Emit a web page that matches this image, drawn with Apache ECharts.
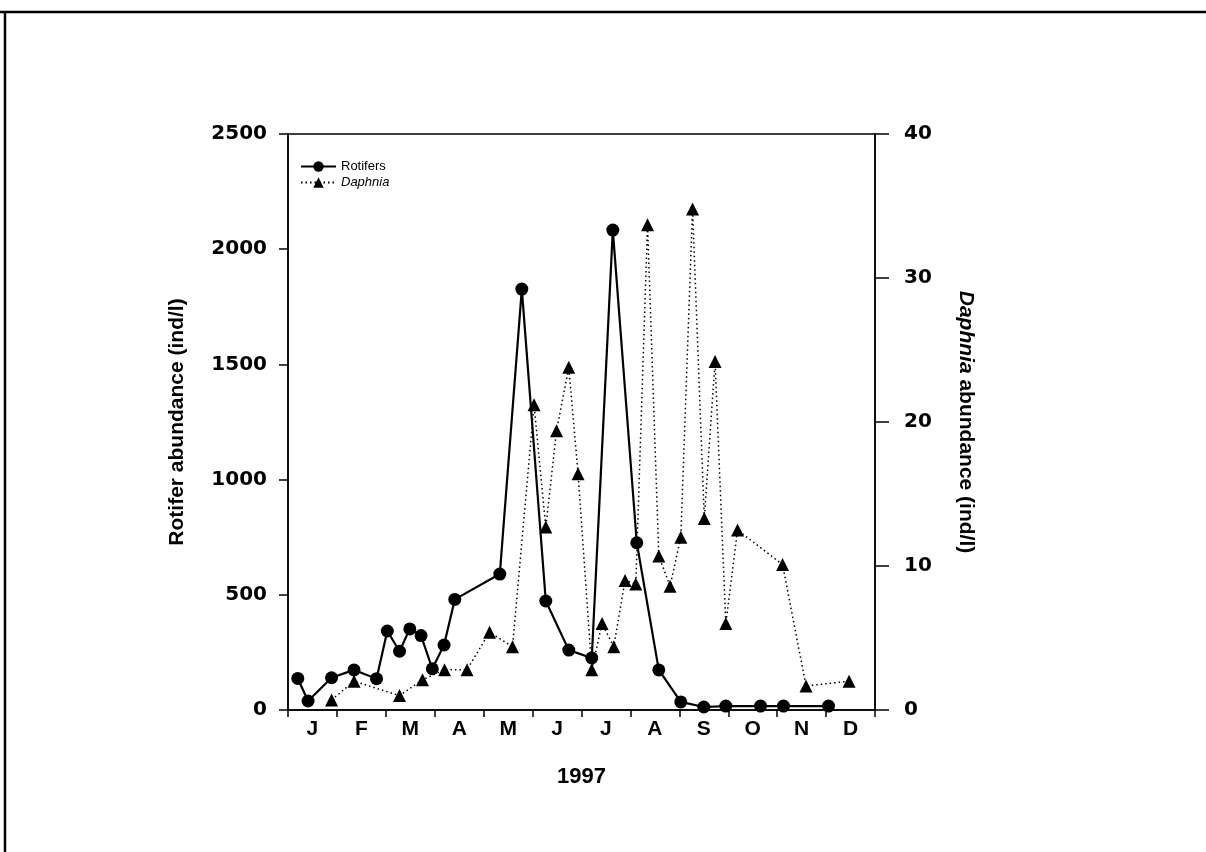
<!DOCTYPE html>
<html>
<head>
<meta charset="utf-8">
<script src="https://cdn.jsdelivr.net/npm/echarts@6/dist/echarts.min.js"></script>
<style>html,body{margin:0;padding:0;background:#fff;}#c{width:1206px;height:852px;}</style>
</head>
<body>
<div id="c"></div>
<script>
// Month labels (x axis spans 12 months, value axis in months from Jan 1)
var months = ['J','F','M','A','M','J','J','A','S','O','N','D'];

// Rotifers (ind/l), left axis
var rotiferX = [0.20,0.41,0.89,1.35,1.81,2.03,2.28,2.49,2.72,2.95,3.19,3.41,4.33,4.78,5.27,5.74,6.21,6.64,7.13,7.58,8.03,8.50,8.95,9.66,10.13,11.05];
var rotiferY = [137,39,140,174,136,343,255,352,323,179,282,480,590,1827,473,260,226,2083,726,174,35,13,17,17,17,17];

// Daphnia (ind/l), right axis
var daphniaX = [0.89,1.35,2.28,2.75,3.20,3.66,4.12,4.59,5.03,5.27,5.49,5.74,5.93,6.21,6.42,6.66,6.89,7.11,7.35,7.58,7.81,8.03,8.27,8.51,8.73,8.95,9.19,10.11,10.59,11.47];
var daphniaY = [0.7,2.0,1.0,2.1,2.8,2.8,5.4,4.4,21.2,12.7,19.4,23.8,16.4,2.8,6.0,4.4,9.0,8.75,33.7,10.7,8.6,12.0,34.8,13.3,24.2,6.0,12.5,10.1,1.67,2.0];

function pairs(xs, ys){ return xs.map(function(x,i){ return [x, ys[i]]; }); }

var FONT = '"Liberation Sans", Arial, Helvetica, sans-serif';
var NUMFONT = '"DejaVu Sans", "Liberation Sans", sans-serif';
var chart = echarts.init(document.getElementById('c'));
chart.setOption({
  animation: false,
  backgroundColor: '#fff',
  textStyle: { fontFamily: FONT, color: '#000' },
  graphic: [
    { type: 'line', shape: { x1: 0, y1: 12, x2: 1206, y2: 12 }, style: { stroke: '#000', lineWidth: 2.5 } },
    { type: 'line', shape: { x1: 5, y1: 11, x2: 5, y2: 852 }, style: { stroke: '#000', lineWidth: 2.5 } }
  ],
  grid: { left: 288, right: 331, top: 134, bottom: 142, show: true, borderColor: '#000', borderWidth: 1.5, backgroundColor: 'transparent' },
  legend: {
    orient: 'vertical', left: 300, top: 160, padding: 0, itemWidth: 35, itemHeight: 13, itemGap: 3,
    textStyle: { fontFamily: FONT, fontSize: 13, color: '#000', rich: { i: { fontStyle: 'italic', fontSize: 13, fontFamily: FONT } } },
    formatter: function(n){ return n === 'Daphnia' ? '{i|Daphnia}' : n; },
    data: ['Rotifers','Daphnia']
  },
  xAxis: [
    { type: 'value', min: 0, max: 12, position: 'top', show: false },
    { type: 'category', data: months, position: 'bottom', boundaryGap: true,
      axisLine: { show: true, lineStyle: { color: '#000', width: 1.5 } },
      axisTick: { show: true, inside: false, length: 7, lineStyle: { color: '#000', width: 1.5 } },
      axisLabel: { fontSize: 21, fontWeight: 'bold', color: '#000', margin: 9, fontFamily: FONT },
      splitLine: { show: false },
      name: '1997', nameLocation: 'middle', nameGap: 56,
      nameTextStyle: { fontSize: 22, fontWeight: 'bold', color: '#000', fontFamily: FONT } }
  ],
  yAxis: [
    { type: 'value', min: 0, max: 2500, interval: 500, position: 'left',
      axisLine: { show: true, lineStyle: { color: '#000', width: 1.5 } },
      axisTick: { show: true, length: 9, lineStyle: { color: '#000', width: 1.5 } },
      axisLabel: { fontSize: 20, fontWeight: 'bold', color: '#000', margin: 21, fontFamily: NUMFONT,
        formatter: function(v){ return String(v); } },
      splitLine: { show: false },
      name: 'Rotifer abundance (ind/l)', nameLocation: 'middle', nameGap: 100, nameRotate: 90,
      nameTextStyle: { fontSize: 21, fontWeight: 'bold', color: '#000', fontFamily: FONT } },
    { type: 'value', min: 0, max: 40, interval: 10, position: 'right',
      axisLine: { show: true, lineStyle: { color: '#000', width: 1.5 } },
      axisTick: { show: true, length: 14, lineStyle: { color: '#000', width: 1.5 } },
      axisLabel: { fontSize: 20, fontWeight: 'bold', color: '#000', margin: 29, fontFamily: NUMFONT,
        formatter: function(v){ return String(v); } },
      splitLine: { show: false },
      name: '{i|Daphnia} abundance (ind/l)', nameLocation: 'middle', nameGap: 80, nameRotate: -90,
      nameTextStyle: { fontSize: 21, fontWeight: 'bold', color: '#000', fontFamily: FONT,
        rich: { i: { fontStyle: 'italic', fontWeight: 'bold', fontSize: 21, fontFamily: FONT, color: '#000' } } } }
  ],
  series: [
    { name: 'Rotifers', type: 'line', xAxisIndex: 0, yAxisIndex: 0, data: pairs(rotiferX, rotiferY),
      symbol: 'circle', symbolSize: 13, showAllSymbol: true,
      lineStyle: { color: '#000', width: 2.2 }, itemStyle: { color: '#000' }, z: 3 },
    { name: 'Daphnia', type: 'line', xAxisIndex: 0, yAxisIndex: 1, data: pairs(daphniaX, daphniaY),
      symbol: 'triangle', symbolSize: 13, showAllSymbol: true,
      lineStyle: { color: '#000', width: 1.5, type: [1.5, 3] }, itemStyle: { color: '#000' }, z: 2 }
  ]
});
</script>
</body>
</html>
